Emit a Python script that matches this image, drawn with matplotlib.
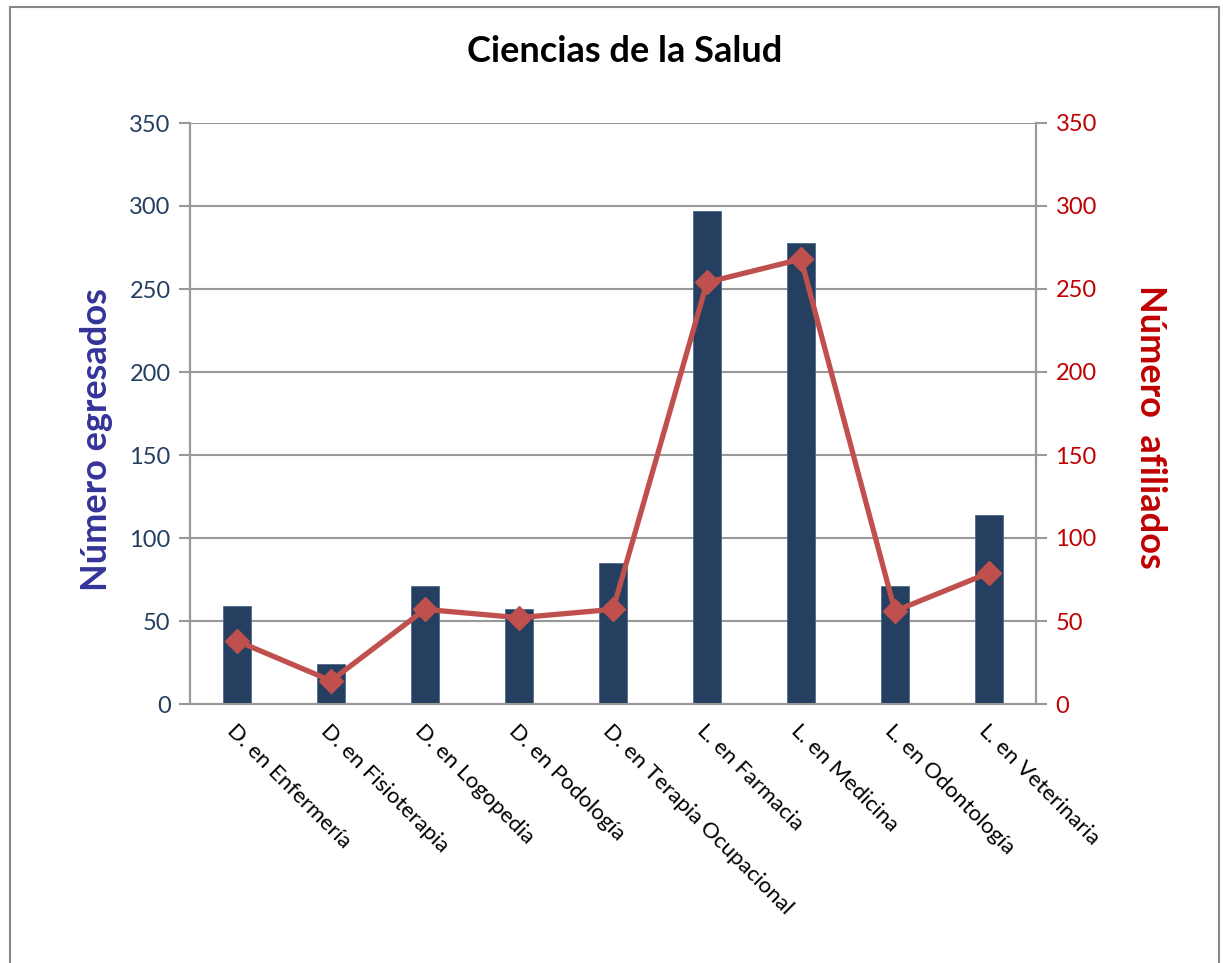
import matplotlib.pyplot as plt
import numpy as np
from matplotlib.patches import Rectangle

# datos
carreras = ["D. en Enfermería", "D. en Fisioterapia", "D. en Logopedia", "D. en Podología",
            "D. en Terapia Ocupacional", "L. en Farmacia", "L. en Medicina",
            "L. en Odontología", "L. en Veterinaria"]
egresados = [59, 24, 71, 57, 85, 297, 278, 71, 114]
afiliados = [38, 14, 57, 52, 57, 254, 268, 56, 79]
ticks_y = [0, 50, 100, 150, 200, 250, 300, 350]

plt.rcParams["font.family"] = ["Lato", "DejaVu Sans"]

fig = plt.figure(figsize=(12.23, 9.63), dpi=100)
ax = fig.add_axes([190 / 1223, 1 - 704 / 963, 846 / 1223, 581 / 963])
ax2 = ax.twinx()

x = np.arange(len(carreras))
ax.bar(x, egresados, width=0.30, color="#243F60", edgecolor="#4F6A8C", linewidth=0.6, zorder=3)
ax2.plot(x, afiliados, color="#C0504D", linewidth=3.8, marker="D", markersize=12,
         markeredgecolor="#C0504D", zorder=4)

for a in (ax, ax2):
    a.set_ylim(0, 350)
    a.set_yticks(ticks_y)
    a.set_xlim(-0.5, len(carreras) - 0.5)
    for s in a.spines.values():
        s.set_color("#999999")
        s.set_linewidth(1.5)
    a.spines["top"].set_visible(False)

ax.yaxis.grid(True, color="#999999", linewidth=1.5, zorder=0)
ax.set_axisbelow(True)
ax.tick_params(axis="y", colors="#999999", labelcolor="#243F60", labelsize=17,
               length=8, width=1.5, pad=6)
ax2.tick_params(axis="y", colors="#999999", labelcolor="#C00000", labelsize=17,
                length=8, width=1.5, pad=6)
ax.tick_params(axis="x", length=0, pad=12)
ax.set_xticks(x)
ax.set_xticklabels(carreras, rotation=-45, ha="left", va="top", rotation_mode="anchor",
                   fontsize=16, color="black")

ax.set_ylabel("Número egresados", fontsize=26, fontweight="bold", color="#333399",
              va="center", ha="center")
ax.yaxis.set_label_coords(-0.11, 0.456)
ax2.set_ylabel("Número  afiliados", fontsize=26, fontweight="bold", color="#C00000",
               rotation=-90, va="center", ha="center")
ax2.yaxis.set_label_coords(1.135, 0.477)

fig.text(625 / 1223, 1 - 52 / 963, "Ciencias de la Salud", fontsize=26, fontweight="bold",
         ha="center", va="center")

# marco del gráfico
fig.patches.append(Rectangle((10 / 1223, -0.05), 1209 / 1223, 1 - 7 / 963 + 0.05,
                             transform=fig.transFigure, fill=False, edgecolor="#888888",
                             linewidth=1.5))

fig.savefig("out.png", dpi=100)
